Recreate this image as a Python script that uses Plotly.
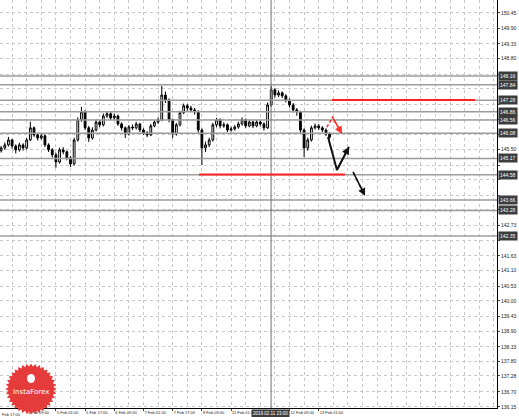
import math
import plotly.graph_objects as go

# ---------------- data ----------------
bar_hours = [-6 + 2 * i for i in range(91)]
opens = [145.45,145.55,145.66,145.84,145.62,145.48,145.66,145.55,145.84,146.28,
         146.02,145.91,145.99,145.66,145.48,145.30,145.04,145.48,145.41,145.19,
         144.97,145.84,146.57,146.86,146.28,145.91,146.20,146.49,146.39,146.71,
         146.79,146.64,146.71,146.42,146.28,146.06,146.31,146.28,146.42,146.20,
         146.10,146.02,146.35,146.49,146.57,147.47,147.29,146.57,146.06,146.39,
         146.83,147.08,147.00,146.93,146.86,146.20,145.55,145.66,145.84,146.39,
         146.57,146.35,146.39,146.20,146.24,146.31,146.42,146.57,146.35,146.49,
         146.35,146.49,146.42,146.28,147.11,147.66,147.47,147.55,147.44,147.29,
         147.11,146.93,146.86,146.20,145.55,145.84,146.28,146.35,146.28,146.20,
         146.06]
highs = [145.62,145.75,145.95,145.88,145.68,145.74,145.72,145.92,146.50,146.33,
         146.10,146.08,146.04,145.72,145.55,145.38,145.56,145.58,145.46,145.25,
         145.92,146.66,147.04,146.92,146.35,146.30,146.58,146.56,146.80,146.88,
         146.85,146.80,146.76,146.48,146.33,146.38,146.40,146.50,146.46,146.26,
         146.16,146.42,146.56,146.66,147.80,147.60,147.35,146.62,146.46,146.90,
         147.16,147.14,147.08,147.00,146.92,146.26,145.78,145.92,146.46,146.64,
         146.62,146.48,146.44,146.32,146.38,146.50,146.66,146.62,146.56,146.54,
         146.57,146.55,146.48,147.20,147.80,147.72,147.64,147.60,147.50,147.35,
         147.18,147.00,146.90,146.26,145.92,146.36,146.44,146.42,146.34,146.26,
         146.12]
lows = [145.38,145.48,145.60,145.52,145.35,145.42,145.45,145.50,145.80,145.95,
        145.82,145.85,145.58,145.40,145.20,144.83,144.98,145.32,145.10,144.86,
        144.92,145.78,146.50,146.20,145.77,145.85,146.15,146.30,146.33,146.64,
        146.56,146.57,146.35,146.18,145.91,146.00,146.20,146.22,146.12,146.02,
        145.94,145.98,146.30,146.42,146.52,147.18,146.48,145.91,146.00,146.33,
        146.78,146.90,146.85,146.76,146.10,144.93,145.40,145.58,145.78,146.30,
        146.26,146.28,146.12,146.14,146.18,146.25,146.36,146.28,146.30,146.27,
        146.30,146.34,146.18,146.24,147.05,147.38,147.40,147.36,147.20,147.02,
        146.84,146.72,146.10,145.22,145.45,145.78,146.22,146.20,146.12,145.98,
        145.88]
closes = [145.55,145.66,145.84,145.62,145.48,145.66,145.55,145.84,146.28,146.02,
          145.91,145.99,145.66,145.48,145.30,145.04,145.48,145.41,145.19,144.97,
          145.84,146.57,146.86,146.28,145.91,146.20,146.49,146.39,146.71,146.79,
          146.64,146.71,146.42,146.28,146.06,146.31,146.28,146.42,146.20,146.10,
          146.02,146.35,146.49,146.57,147.47,147.29,146.57,146.06,146.39,146.83,
          147.08,147.00,146.93,146.86,146.20,145.55,145.66,145.84,146.39,146.57,
          146.35,146.39,146.20,146.24,146.31,146.42,146.57,146.35,146.49,146.35,
          146.49,146.42,146.28,147.11,147.66,147.47,147.55,147.44,147.29,147.11,
          146.93,146.86,146.20,145.55,145.84,146.28,146.35,146.28,146.20,146.06,
          145.95]

price_ticks = [136.15,136.70,137.28,137.80,138.33,138.90,139.43,140.00,140.53,
               141.10,141.63,142.20,142.73,143.30,143.83,144.40,144.93,145.50,
               146.03,146.60,147.13,147.70,148.23,148.80,149.33,149.90,150.45]
time_tick_hours = [8, 24, 40, 56, 72, 88, 104, 120, 152, 168]
time_tick_labels = ["4 Feb 09:00", "5 Feb 01:00", "5 Feb 17:00", "6 Feb 09:00",
                    "7 Feb 01:00", "7 Feb 17:00", "8 Feb 09:00", "11 Feb 01:00",
                    "12 Feb 09:00", "13 Feb 01:00"]

level_prices = [148.16, 147.84, 147.28, 146.86, 146.56, 146.08, 145.17, 144.58,
                143.66, 143.28, 142.35]
level_labels = ["148.16", "147.84", "147.28", "146.86", "146.56", "146.08",
                "145.17", "144.58", "143.66", "143.28", "142.35"]

red_upper_x = [175.3, 253.6]
red_upper_y = [147.29, 147.29]
red_lower_x = [102.4, 182.4]
red_lower_y = [144.59, 144.59]

black_path_x = [173.1, 178.0, 184.6]
black_path_y = [145.95, 144.75, 145.59]
red_dash_x = [172.5, 175.6, 180.8]
red_dash_y = [146.31, 146.66, 146.06]
black_dash_x = [186.8, 193.4]
black_dash_y = [144.68, 143.81]

marker_hour = 141.9
marker_label_hour = 130.8
marker_label = "2019.02.11 23:00"

X_RANGE = [-6.63, 265.7]
Y_RANGE = [136.11, 150.92]

FONT = "Liberation Sans"

# ---------------- figure ----------------
fig = go.Figure()

fig.add_trace(go.Candlestick(
    x=bar_hours, open=opens, high=highs, low=lows, close=closes,
    increasing=dict(line=dict(color="#000000", width=1), fillcolor="#ffffff"),
    decreasing=dict(line=dict(color="#000000", width=1), fillcolor="#000000"),
    whiskerwidth=0, showlegend=False, hoverinfo="skip"))

for p in level_prices:
    fig.add_trace(go.Scatter(x=X_RANGE, y=[p, p], mode="lines",
                             line=dict(color="#9c9c9c", width=1.5),
                             showlegend=False, hoverinfo="skip"))

fig.add_trace(go.Scatter(x=[marker_hour, marker_hour], y=Y_RANGE, mode="lines",
                         line=dict(color="#707070", width=1),
                         showlegend=False, hoverinfo="skip"))

fig.add_trace(go.Scatter(x=red_upper_x, y=red_upper_y, mode="lines",
                         line=dict(color="#ff2020", width=2), showlegend=False))
fig.add_trace(go.Scatter(x=red_lower_x, y=red_lower_y, mode="lines",
                         line=dict(color="#ff2020", width=2), showlegend=False))

fig.add_trace(go.Scatter(x=black_path_x, y=black_path_y, mode="lines",
                         line=dict(color="#111111", width=2), showlegend=False))
fig.add_trace(go.Scatter(x=red_dash_x, y=red_dash_y, mode="lines",
                         line=dict(color="#ff3030", width=1.5, dash="3px,2px"),
                         showlegend=False))
fig.add_trace(go.Scatter(x=black_dash_x, y=black_dash_y, mode="lines",
                         line=dict(color="#111111", width=1.5, dash="4px,3px"),
                         showlegend=False))

ann = []
for xs, ys, col in [(black_path_x, black_path_y, "#111111"),
                    (red_dash_x, red_dash_y, "#ff3030"),
                    (black_dash_x, black_dash_y, "#111111")]:
    ann.append(dict(x=xs[-1], y=ys[-1], ax=xs[-2], ay=ys[-2], xref="x", yref="y",
                    axref="x", ayref="y", showarrow=True, arrowhead=2,
                    arrowsize=1, arrowwidth=1.5, arrowcolor=col, text=""))

for p, t in zip(level_prices, level_labels):
    ann.append(dict(x=1, xref="paper", y=p, yref="y", xanchor="left", xshift=1,
                    text=t, showarrow=False, bgcolor="#3c3c3c", borderpad=1,
                    font=dict(color="#ffffff", size=5, family=FONT)))

ann.append(dict(x=marker_label_hour, xref="x", y=0, yref="paper", yanchor="top",
                xanchor="left", yshift=-1, text=marker_label, showarrow=False,
                bgcolor="#3c3c3c", borderpad=1,
                font=dict(color="#ffffff", size=4.5, family=FONT)))
ann.append(dict(x=0, xref="paper", y=0, yref="paper", xanchor="left", yanchor="top",
                yshift=-2, text="Feb 17:00", showarrow=False,
                font=dict(color="#222222", size=4, family=FONT)))

tick_text = []
for v in price_ticks:
    covered = any(abs(v - p) < 0.27 for p in level_prices)
    tick_text.append("" if covered else f"{v:.2f}")

# InstaForex badge
PW, PH = 497.0, 408.0
cx, cy, ro, ri, n = 31.0, 389.0, 25.5, 22.5, 36
pts = []
for k in range(2 * n):
    r = ro if k % 2 == 0 else ri
    a = math.pi * k / n
    pts.append(((cx + r * math.cos(a)) / PW, 1 - (cy + r * math.sin(a)) / PH))
path = "M " + " L ".join(f"{x:.5f},{y:.5f}" for x, y in pts) + " Z"
shapes = [dict(type="path", path=path, xref="paper", yref="paper",
               fillcolor="#e53b3b", line=dict(width=0), layer="above"),
          dict(type="circle", xref="paper", yref="paper",
               x0=(cx - 4) / PW, x1=(cx + 4) / PW,
               y0=1 - (cy - 6) / PH, y1=1 - (cy - 15) / PH,
               fillcolor="#ffffff", line=dict(width=0), layer="above")]
ann.append(dict(x=cx / PW, y=1 - (cy + 3) / PH, xref="paper", yref="paper",
                xanchor="center", yanchor="middle",
                text="InstaForex", showarrow=False,
                font=dict(color="#ffffff", size=7, family="DejaVu Sans")))

fig.update_layout(
    width=519, height=417,
    margin=dict(l=0, r=22, t=0, b=9, autoexpand=False),
    paper_bgcolor="#ffffff", plot_bgcolor="#ffffff",
    showlegend=False,
    annotations=ann, shapes=shapes,
    font=dict(family=FONT, size=5, color="#222222"),
)
fig.update_xaxes(
    range=X_RANGE, rangeslider=dict(visible=False), automargin=False,
    tickmode="array", tickvals=time_tick_hours, ticktext=time_tick_labels,
    tickangle=0, ticklabelposition="outside right", ticks="outside", ticklen=2,
    tickfont=dict(size=4, color="#222222", family=FONT),
    showline=True, linecolor="#000000", linewidth=1,
    showgrid=True, gridcolor="#c8c8c8", griddash="dot", gridwidth=1,
    minor=dict(tick0=0, dtick=8, showgrid=True, gridcolor="#c8c8c8",
               griddash="dot", gridwidth=1),
    zeroline=False, fixedrange=True)
fig.update_yaxes(
    range=Y_RANGE, side="right", automargin=False,
    tickmode="array", tickvals=price_ticks, ticktext=tick_text,
    ticks="outside", ticklen=2, tickfont=dict(size=5, color="#222222", family=FONT),
    showline=True, linecolor="#000000", linewidth=1,
    showgrid=True, gridcolor="#c8c8c8", griddash="dot", gridwidth=1,
    zeroline=False, fixedrange=True)

fig.write_html("out.html", config={"displayModeBar": False},
               post_script="document.body.style.margin='0px';"
                           "document.body.style.overflow='hidden';")
